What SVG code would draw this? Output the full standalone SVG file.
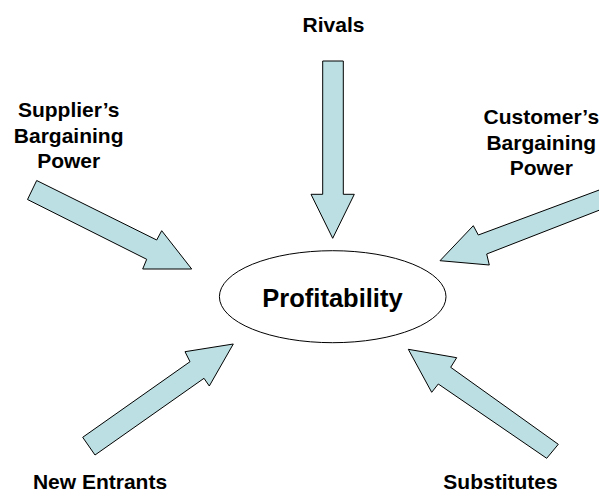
<svg xmlns="http://www.w3.org/2000/svg" width="599" height="492" viewBox="0 0 599 492">
<style>
.arrow{fill:#BBDFE2;stroke:#000;stroke-width:1;stroke-linejoin:miter}
.lbl{font-family:"Liberation Sans",Arial,sans-serif;font-weight:bold;font-size:21px;fill:#000;text-anchor:middle}
.main{font-size:25.5px}
</style>
<rect width="599" height="492" fill="#fff"/>
<g id="connectors">
<polygon id="arrow-rivals" class="arrow" points="322.7,61 343.3,61 343.3,194.3 354.3,194.3 332.7,238.3 311,194.3 322.7,194.3"/>
<polygon id="arrow-supplier" class="arrow" points="36.7,180.5 156.7,240 161.7,230.7 191.7,269 142.7,269 146.7,259.3 27.5,199.5"/>
<polygon id="arrow-customer" class="arrow" points="610,186 478.3,235 473.3,225.7 440,260.7 489.3,265 486.7,254 610,206"/>
<polygon id="arrow-entrants" class="arrow" points="82.7,437.3 190,361.7 185,351.7 233.3,344 209.3,386 204,378.3 95,455"/>
<polygon id="arrow-substitutes" class="arrow" points="558.3,444.3 450.7,367.3 456.7,357.7 408.3,349.3 431.7,392.3 438.3,384 546.7,458.3"/>
</g>
<g id="node-profitability">
<ellipse cx="332.7" cy="296.7" rx="113.3" ry="46" fill="#fff" stroke="#000" stroke-width="1"/>
<text class="lbl main" x="332.5" y="306.5">Profitability</text>
</g>
<g id="node-rivals">
<text class="lbl" x="333.5" y="31.7">Rivals</text>
</g>
<g id="node-supplier">
<text class="lbl" x="68.7" y="117">Supplier’s</text>
<text class="lbl" x="68.7" y="142.7">Bargaining</text>
<text class="lbl" x="68.7" y="168.3">Power</text>
</g>
<g id="node-customer">
<text class="lbl" x="541.3" y="124.3">Customer’s</text>
<text class="lbl" x="541.3" y="149.5">Bargaining</text>
<text class="lbl" x="541.3" y="174.5">Power</text>
</g>
<g id="node-entrants">
<text class="lbl" x="100" y="489">New Entrants</text>
</g>
<g id="node-substitutes">
<text class="lbl" x="500.5" y="489">Substitutes</text>
</g>
</svg>
